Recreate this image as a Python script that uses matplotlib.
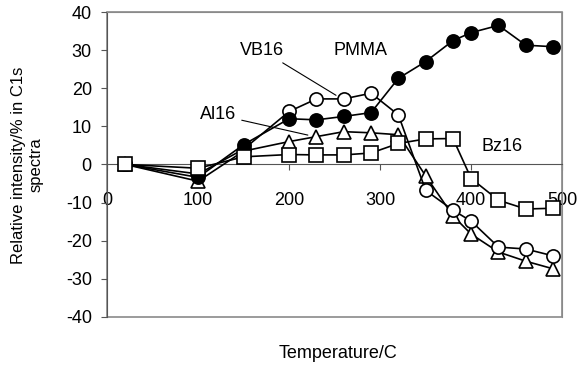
import numpy as np
import matplotlib
matplotlib.use('Agg')
import matplotlib.pyplot as plt
from matplotlib.patches import Rectangle

plt.rcParams['font.family'] = ['Liberation Sans', 'DejaVu Sans']
plt.rcParams['font.size'] = 13
plt.rcParams['axes.unicode_minus'] = False

temps = [20, 100, 150, 200, 230, 260, 290, 320, 350, 380, 400, 430, 460, 490]
pmma = [0, -3.4, 5.2, 12.0, 11.7, 12.6, 13.6, 22.6, 27.0, 32.5, 34.6, 36.5, 31.3, 30.9]
vb16 = [0, -2.5, 4.0, 13.9, 17.2, 17.2, 18.7, 13.0, -6.8, -12.0, -14.9, -21.7, -22.2, -24.0]
al16 = [0, -4.4, 3.5, 6.0, 7.3, 8.6, 8.3, 7.8, -3.0, -13.5, -18.3, -23.0, -25.4, -27.4]
bz16 = [0, -1.0, 2.0, 2.6, 2.5, 2.5, 3.0, 5.5, 6.7, 6.8, -3.7, -9.4, -11.7, -11.5]

xticks = [0, 100, 200, 300, 400, 500]
yticks = [-40, -30, -20, -10, 0, 10, 20, 30, 40]

fig = plt.figure(figsize=(5.82, 3.65), dpi=100)
ax = fig.add_axes([0.184, 0.132, 0.782, 0.835])

ms = 9.5
lw = 1.2
ax.plot(temps, al16, '-^', color='black', lw=lw, ms=ms, mfc='white', mec='black', mew=1.2, zorder=3)
ax.plot(temps, vb16, '-o', color='black', lw=lw, ms=ms, mfc='white', mec='black', mew=1.2, zorder=3)
ax.plot(temps, pmma, '-o', color='black', lw=lw, ms=ms, mfc='black', mec='black', mew=1.2, zorder=4)
ax.plot(temps, bz16, '-s', color='black', lw=lw, ms=ms, mfc='white', mec='black', mew=1.2, zorder=5)

ax.set_xlim(0, 500)
ax.set_ylim(-40, 40)
ax.set_xticks(xticks)
ax.set_yticks(yticks)

for s in ['top', 'right']:
    ax.spines[s].set_color('#8a8a8a')
ax.spines['left'].set_color('#555555')
ax.spines['bottom'].set_position(('data', 0))
ax.spines['bottom'].set_color('#555555')
ax.add_patch(Rectangle((0, 0), 1, 1, transform=ax.transAxes, fill=False,
                       edgecolor='#8a8a8a', lw=1.2, zorder=1, clip_on=False))

ax.tick_params(axis='x', direction='out', length=4, pad=16, color='#555555')
ax.tick_params(axis='y', direction='out', length=4, pad=7, color='#555555')

ax.annotate('VB16', xy=(258, 17.2), xytext=(170, 30), ha='center', va='center',
            arrowprops=dict(arrowstyle='-', color='black', lw=0.8, shrinkB=5))
ax.annotate('Al16', xy=(228, 7.3), xytext=(122, 13), ha='center', va='center',
            arrowprops=dict(arrowstyle='-', color='black', lw=0.8, shrinkB=5))
ax.text(278, 30, 'PMMA', ha='center', va='center')
ax.text(434, 4.7, 'Bz16', ha='center', va='center')

fig.text(27 / 582, 1 - 165 / 365, 'Relative intensity/% in C1s\nspectra',
         rotation=90, ha='center', va='center', multialignment='center', fontsize=12)
fig.text(338 / 582, 1 - 353 / 365, 'Temperature/C', ha='center', va='center')

fig.savefig('out.png', dpi=100)
